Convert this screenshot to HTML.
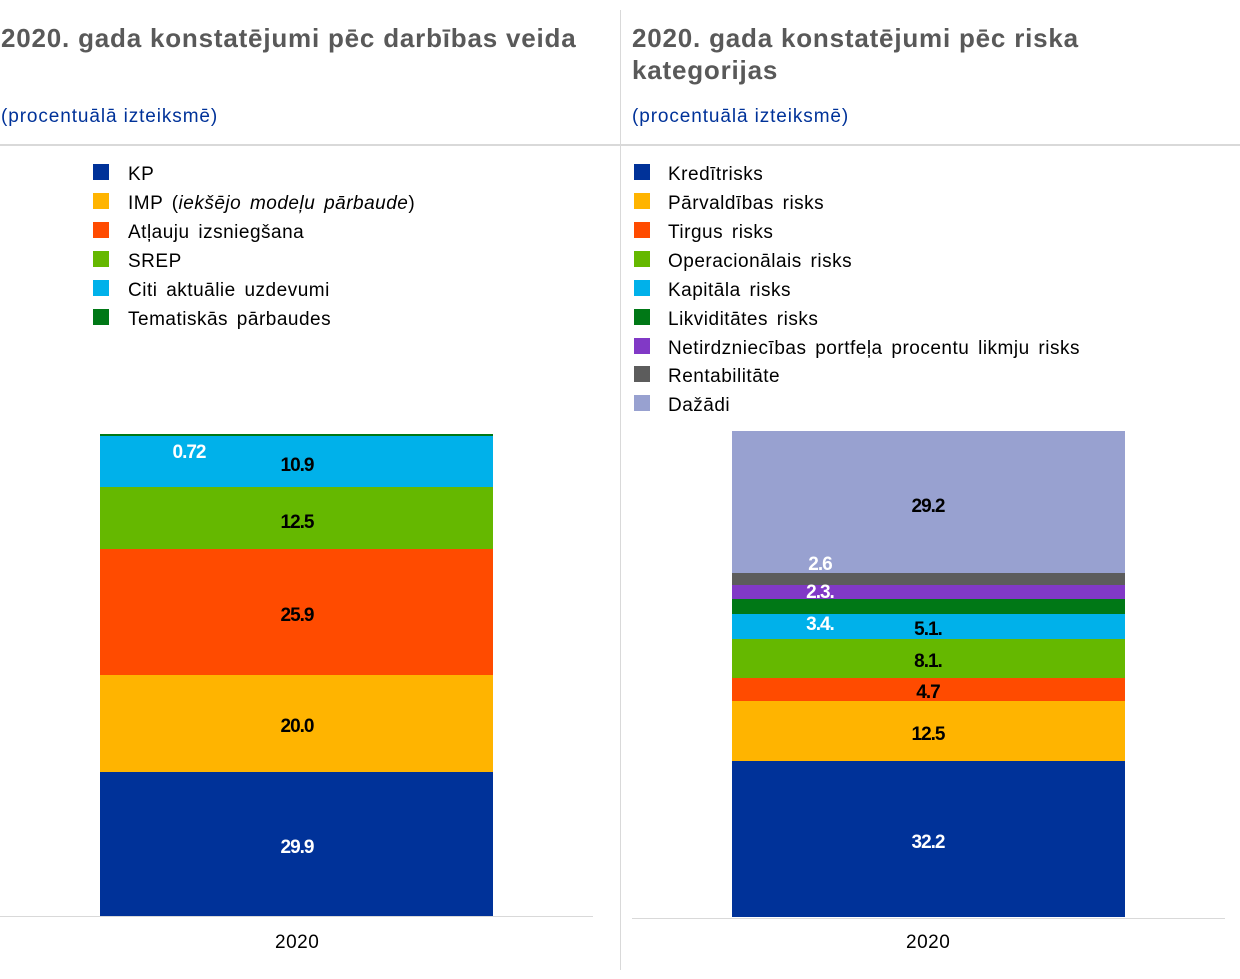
<!DOCTYPE html>
<html><head><meta charset="utf-8"><style>
body{margin:0;width:1240px;height:979px;background:#fff;position:relative;font-family:"Liberation Sans",sans-serif;overflow:hidden}
div{position:absolute}
.t{font-size:26px;font-weight:bold;color:#595959;line-height:32px;letter-spacing:0.8px}
.s{font-size:19px;color:#003299;letter-spacing:0.9px}
.lg{font-size:19px;color:#000;white-space:nowrap;letter-spacing:0.5px;word-spacing:3px}
.sw{width:16px;height:16px}
.v{font-size:19px;font-weight:bold;text-align:center;width:100px;letter-spacing:-1px}
</style></head><body>
<div class="t" style="left:1px;top:22px">2020. gada konstatējumi pēc darbības veida</div>
<div class="t" style="left:632px;top:22px;width:560px">2020. gada konstatējumi pēc riska kategorijas</div>
<div class="s" style="left:1px;top:106px">(procentuālā izteiksmē)</div>
<div class="s" style="left:632px;top:106px">(procentuālā izteiksmē)</div>
<div style="left:0;top:144px;width:1240px;height:2px;background:#d9d9d9"></div>
<div style="left:620px;top:10px;width:1px;height:960px;background:#d9d9d9"></div>

<div class="sw" style="left:93px;top:164px;background:#003299"></div><div class="lg" style="left:128px;top:164px">KP</div>
<div class="sw" style="left:93px;top:193px;background:#ffb400"></div><div class="lg" style="left:128px;top:193px">IMP (<i>iekšējo modeļu pārbaude</i>)</div>
<div class="sw" style="left:93px;top:222px;background:#ff4b00"></div><div class="lg" style="left:128px;top:222px">Atļauju izsniegšana</div>
<div class="sw" style="left:93px;top:251px;background:#65b800"></div><div class="lg" style="left:128px;top:251px">SREP</div>
<div class="sw" style="left:93px;top:280px;background:#00b1ea"></div><div class="lg" style="left:128px;top:280px">Citi aktuālie uzdevumi</div>
<div class="sw" style="left:93px;top:309px;background:#007816"></div><div class="lg" style="left:128px;top:309px">Tematiskās pārbaudes</div>

<div style="left:100px;top:434px;width:393px;height:2px;background:#007816"></div>
<div style="left:100px;top:436px;width:393px;height:51px;background:#00b1ea"></div>
<div style="left:100px;top:487px;width:393px;height:62px;background:#65b800"></div>
<div style="left:100px;top:549px;width:393px;height:126px;background:#ff4b00"></div>
<div style="left:100px;top:675px;width:393px;height:97px;background:#ffb400"></div>
<div style="left:100px;top:772px;width:393px;height:144px;background:#003299"></div>
<div class="v" style="left:139px;top:442px;color:#fff">0.72</div>
<div class="v" style="left:247px;top:455px">10.9</div>
<div class="v" style="left:247px;top:512px">12.5</div>
<div class="v" style="left:247px;top:605px">25.9</div>
<div class="v" style="left:247px;top:716px">20.0</div>
<div class="v" style="left:247px;top:837px;color:#fff">29.9</div>
<div style="left:0;top:916px;width:593px;height:1px;background:#d9d9d9"></div>
<div class="lg" style="left:275px;top:932px">2020</div>

<div class="sw" style="left:634px;top:164px;background:#003299"></div><div class="lg" style="left:668px;top:164px">Kredītrisks</div>
<div class="sw" style="left:634px;top:193px;background:#ffb400"></div><div class="lg" style="left:668px;top:193px">Pārvaldības risks</div>
<div class="sw" style="left:634px;top:222px;background:#ff4b00"></div><div class="lg" style="left:668px;top:222px">Tirgus risks</div>
<div class="sw" style="left:634px;top:251px;background:#65b800"></div><div class="lg" style="left:668px;top:251px">Operacionālais risks</div>
<div class="sw" style="left:634px;top:280px;background:#00b1ea"></div><div class="lg" style="left:668px;top:280px">Kapitāla risks</div>
<div class="sw" style="left:634px;top:309px;background:#007816"></div><div class="lg" style="left:668px;top:309px">Likviditātes risks</div>
<div class="sw" style="left:634px;top:338px;background:#8139c6"></div><div class="lg" style="left:668px;top:338px">Netirdzniecības portfeļa procentu likmju risks</div>
<div class="sw" style="left:634px;top:366px;background:#5c5c5c"></div><div class="lg" style="left:668px;top:366px">Rentabilitāte</div>
<div class="sw" style="left:634px;top:395px;background:#98a1d0"></div><div class="lg" style="left:668px;top:395px">Dažādi</div>

<div style="left:732px;top:431px;width:393px;height:142px;background:#98a1d0"></div>
<div style="left:732px;top:573px;width:393px;height:12px;background:#5c5c5c"></div>
<div style="left:732px;top:585px;width:393px;height:14px;background:#8139c6"></div>
<div style="left:732px;top:599px;width:393px;height:15px;background:#007816"></div>
<div style="left:732px;top:614px;width:393px;height:25px;background:#00b1ea"></div>
<div style="left:732px;top:639px;width:393px;height:39px;background:#65b800"></div>
<div style="left:732px;top:678px;width:393px;height:23px;background:#ff4b00"></div>
<div style="left:732px;top:701px;width:393px;height:60px;background:#ffb400"></div>
<div style="left:732px;top:761px;width:393px;height:156px;background:#003299"></div>
<div class="v" style="left:878px;top:496px">29.2</div>
<div class="v" style="left:770px;top:554px;color:#fff">2.6</div>
<div class="v" style="left:770px;top:582px;color:#fff">2.3.</div>
<div class="v" style="left:770px;top:614px;color:#fff">3.4.</div>
<div class="v" style="left:878px;top:619px">5.1.</div>
<div class="v" style="left:878px;top:651px">8.1.</div>
<div class="v" style="left:878px;top:682px">4.7</div>
<div class="v" style="left:878px;top:724px">12.5</div>
<div class="v" style="left:878px;top:832px;color:#fff">32.2</div>
<div style="left:632px;top:918px;width:593px;height:1px;background:#d9d9d9"></div>
<div class="lg" style="left:906px;top:932px">2020</div>
</body></html>
